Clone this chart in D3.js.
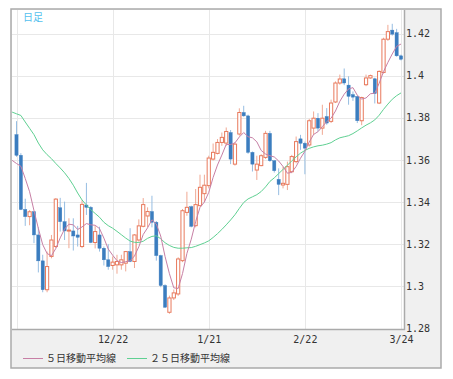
<!DOCTYPE html>
<html>
<head>
<meta charset="utf-8">
<script src="https://cdn.jsdelivr.net/npm/d3@7"></script>
<style>
  body { margin: 0; background: #fff; }
  .axis text { font-family: "DejaVu Sans Mono", monospace; font-size: 10px; fill: #333; }
  .legend text { font-family: "Noto Sans CJK JP", sans-serif; font-size: 10px; fill: #333; }
</style>
</head>
<body>
<div id="chart"></div>
<script>
// daily OHLC, oldest first
var opens = [1.3720,1.3622,1.3365,1.3331,1.3354,1.3244,1.3121,1.2984,1.3142,1.3189,
  1.3373,1.3307,1.3263,1.3263,1.3244,1.3189,1.3386,1.3375,1.3208,1.3244,
  1.3181,1.3126,1.3099,1.3102,1.3102,1.3110,1.3165,1.3118,1.3220,1.3285,
  1.3334,1.3355,1.3304,1.3146,1.3004,1.2877,1.2945,1.2964,1.3122,1.3351,
  1.3378,1.3288,1.3383,1.3440,1.3478,1.3604,1.3631,1.3683,1.3680,1.3730,
  1.3580,1.3723,1.3825,1.3809,1.3636,1.3552,1.3573,1.3612,1.3726,1.3596,
  1.3508,1.3481,1.3484,1.3544,1.3592,1.3700,1.3679,1.3671,1.3751,1.3798,
  1.3751,1.3806,1.3783,1.3875,1.3965,1.3985,1.3955,1.3910,1.3901,1.3786,
  1.3957,1.3989,1.3985,1.3870,1.4015,1.4173,1.4216,1.4204,1.4094];
var highs = [1.3784,1.3632,1.3416,1.3362,1.3358,1.3280,1.3150,1.3165,1.3244,1.3419,
  1.3420,1.3402,1.3323,1.3323,1.3287,1.3409,1.3491,1.3381,1.3287,1.3283,
  1.3189,1.3200,1.3142,1.3150,1.3150,1.3168,1.3276,1.3248,1.3318,1.3419,
  1.3375,1.3430,1.3310,1.3150,1.3010,1.2956,1.2985,1.3138,1.3367,1.3449,
  1.3383,1.3462,1.3530,1.3530,1.3620,1.3678,1.3699,1.3730,1.3754,1.3742,
  1.3683,1.3845,1.3857,1.3815,1.3640,1.3620,1.3627,1.3738,1.3738,1.3600,
  1.3560,1.3568,1.3592,1.3624,1.3711,1.3719,1.3687,1.3795,1.3830,1.3822,
  1.3862,1.3846,1.3886,1.3973,1.4005,1.4034,1.3997,1.3925,1.3905,1.3900,
  1.4005,1.4005,1.3990,1.4025,1.4180,1.4241,1.4246,1.4222,1.4100];
var lows = [1.3615,1.3362,1.3287,1.3290,1.3205,1.3066,1.2972,1.2972,1.3133,1.3181,
  1.3260,1.3220,1.3181,1.3170,1.3189,1.3181,1.3339,1.3205,1.3180,1.3165,
  1.3099,1.3079,1.3079,1.3060,1.3079,1.3071,1.3115,1.3087,1.3212,1.3280,
  1.3280,1.3280,1.3122,1.2996,1.2898,1.2870,1.2935,1.2955,1.3115,1.3335,
  1.3280,1.3280,1.3380,1.3400,1.3465,1.3597,1.3626,1.3667,1.3667,1.3580,
  1.3573,1.3715,1.3805,1.3629,1.3545,1.3505,1.3570,1.3605,1.3591,1.3540,
  1.3433,1.3465,1.3457,1.3537,1.3584,1.3648,1.3532,1.3663,1.3719,1.3735,
  1.3719,1.3767,1.3775,1.3870,1.3957,1.3955,1.3862,1.3880,1.3775,1.3765,
  1.3950,1.3985,1.3868,1.3865,1.4010,1.4165,1.4190,1.4090,1.4072];
var closes = [1.3622,1.3365,1.3331,1.3354,1.3244,1.3121,1.2984,1.3094,1.3220,1.3414,
  1.3307,1.3263,1.3267,1.3239,1.3233,1.3389,1.3375,1.3208,1.3260,1.3181,
  1.3126,1.3094,1.3115,1.3118,1.3126,1.3165,1.3118,1.3244,1.3287,1.3388,
  1.3355,1.3304,1.3146,1.3004,1.2901,1.2945,1.2969,1.3130,1.3359,1.3375,
  1.3285,1.3388,1.3470,1.3480,1.3609,1.3636,1.3683,1.3707,1.3735,1.3604,
  1.3675,1.3825,1.3809,1.3636,1.3580,1.3580,1.3620,1.3726,1.3596,1.3549,
  1.3484,1.3489,1.3568,1.3616,1.3687,1.3679,1.3656,1.3786,1.3798,1.3751,
  1.3798,1.3775,1.3870,1.3965,1.3984,1.3965,1.3902,1.3898,1.3786,1.3896,
  1.3989,1.4000,1.3915,1.4020,1.4173,1.4209,1.4197,1.4094,1.4078];

// moving averages, first value is the day before the first candle
var ma5 = [1.3598,1.3583,1.3570,1.3512,1.3449,1.3360,1.3275,1.3198,1.3156,1.3145,1.3180,
  1.3230,1.3272,1.3295,1.3292,1.3270,1.3282,1.3298,1.3292,1.3290,1.3274,
  1.3229,1.3177,1.3148,1.3122,1.3113,1.3117,1.3121,1.3144,1.3188,1.3246,
  1.3278,1.3316,1.3296,1.3239,1.3142,1.3060,1.2993,1.2990,1.3061,1.3156,
  1.3224,1.3307,1.3375,1.3400,1.3446,1.3517,1.3576,1.3623,1.3674,1.3673,
  1.3681,1.3709,1.3730,1.3710,1.3705,1.3686,1.3645,1.3628,1.3620,1.3614,
  1.3595,1.3569,1.3537,1.3541,1.3569,1.3608,1.3641,1.3685,1.3721,1.3734,
  1.3758,1.3782,1.3798,1.3832,1.3878,1.3912,1.3937,1.3943,1.3907,1.3889,
  1.3894,1.3914,1.3917,1.3964,1.4019,1.4063,1.4103,1.4139,1.4150];
var ma25 = [1.3827,1.3819,1.3811,1.3780,1.3750,1.3720,1.3680,1.3648,1.3625,1.3606,1.3583,
  1.3562,1.3539,1.3512,1.3480,1.3443,1.3410,1.3386,1.3364,1.3346,1.3328,
  1.3304,1.3288,1.3276,1.3261,1.3245,1.3229,1.3215,1.3209,1.3208,1.3214,
  1.3228,1.3237,1.3240,1.3226,1.3207,1.3194,1.3185,1.3181,1.3181,1.3183,
  1.3184,1.3190,1.3198,1.3206,1.3216,1.3232,1.3250,1.3270,1.3292,1.3315,
  1.3340,1.3370,1.3398,1.3415,1.3425,1.3435,1.3450,1.3472,1.3498,1.3515,
  1.3535,1.3555,1.3575,1.3595,1.3615,1.3632,1.3645,1.3655,1.3662,1.3667,
  1.3670,1.3675,1.3682,1.3695,1.3705,1.3710,1.3715,1.3725,1.3738,1.3752,
  1.3765,1.3776,1.3790,1.3812,1.3840,1.3865,1.3888,1.3905,1.3918];

var tickIdx = [0, 22, 44, 66, 88];
var tickLabels = ["", "12/22", "1/21", "2/22", "3/24"];
var yTicks = [1.28, 1.30, 1.32, 1.34, 1.36, 1.38, 1.40, 1.42];
var legendNames = ["５日移動平均線", "２５日移動平均線"];

var upColor = "#e8795c", upWick = "#f0a893";
var downColor = "#3b7dbf", downWick = "#96bde2";
var ma5Color = "#c77fa5", ma25Color = "#5fd092";

var svg = d3.select("#chart")
    .append("svg")
    .attr("width", 453)
    .attr("height", 379);

var plot = { left: 12, top: 10, right: 404, bottom: 329 };

var x = d3.scaleLinear().domain([0, 88]).range([16.5, 401]);
var y = d3.scaleLinear().domain([1.28, 1.42]).range([328.5, 33.5]);

// frame and panel backgrounds
svg.append("rect")
    .attr("x", 11).attr("y", 9)
    .attr("width", 430).attr("height", 359)
    .attr("fill", "#f0f0f0")
    .attr("stroke", "#aaa")
    .attr("stroke-width", 1.5);

svg.append("rect")
    .attr("x", plot.left).attr("y", plot.top)
    .attr("width", plot.right - plot.left).attr("height", plot.bottom - plot.top)
    .attr("fill", "#fff");

svg.append("clipPath").attr("id", "clip")
    .append("rect")
    .attr("x", plot.left).attr("y", plot.top)
    .attr("width", plot.right - plot.left).attr("height", plot.bottom - plot.top);

var grid = svg.append("g");
grid.selectAll(".hg").data(yTicks).enter().append("line")
    .attr("x1", plot.left).attr("x2", plot.right)
    .attr("y1", function (d) { return Math.round(y(d)) + 0.5; })
    .attr("y2", function (d) { return Math.round(y(d)) + 0.5; })
    .attr("stroke", "#e8e8e8");
grid.selectAll(".vg").data(tickIdx).enter().append("line")
    .attr("x1", function (d) { return Math.round(x(d)) + 0.5; })
    .attr("x2", function (d) { return Math.round(x(d)) + 0.5; })
    .attr("y1", plot.top).attr("y2", plot.bottom)
    .attr("stroke", "#e8e8e8");

var g = svg.append("g").attr("clip-path", "url(#clip)");

var days = d3.range(closes.length);

// candles
var candle = g.selectAll(".candle")
    .data(days)
    .enter().append("g")
    .attr("class", "candle");

candle.append("line")
    .attr("x1", function (i) { return x(i); })
    .attr("x2", function (i) { return x(i); })
    .attr("y1", function (i) { return y(highs[i]); })
    .attr("y2", function (i) { return y(lows[i]); })
    .attr("stroke", function (i) { return closes[i] >= opens[i] ? upWick : downWick; })
    .attr("stroke-width", 1);

candle.append("rect")
    .attr("x", function (i) { return x(i) - 1.6; })
    .attr("width", 3.2)
    .attr("y", function (i) { return y(Math.max(opens[i], closes[i])); })
    .attr("height", function (i) { return Math.max(1, Math.abs(y(opens[i]) - y(closes[i]))); })
    .attr("fill", function (i) { return closes[i] >= opens[i] ? "#fff" : downColor; })
    .attr("stroke", function (i) { return closes[i] >= opens[i] ? upColor : downColor; })
    .attr("stroke-width", function (i) { return closes[i] >= opens[i] ? 1 : 0.4; });

// moving averages
var line = d3.line()
    .x(function (d, k) { return x(k - 1); })
    .y(function (d) { return y(d); });

g.append("path")
    .attr("d", line(ma25))
    .attr("fill", "none")
    .attr("stroke", ma25Color)
    .attr("stroke-width", 1);

g.append("path")
    .attr("d", line(ma5))
    .attr("fill", "none")
    .attr("stroke", ma5Color)
    .attr("stroke-width", 1);

// panel borders
svg.append("line")
    .attr("x1", plot.left).attr("x2", plot.right + 1)
    .attr("y1", plot.bottom + 0.5).attr("y2", plot.bottom + 0.5)
    .attr("stroke", "#aaa").attr("stroke-width", 1.5);
svg.append("line")
    .attr("x1", plot.right + 0.5).attr("x2", plot.right + 0.5)
    .attr("y1", plot.top).attr("y2", plot.bottom + 1)
    .attr("stroke", "#aaa").attr("stroke-width", 1.5);

// axes
var yAxis = d3.axisRight(y)
    .tickValues(yTicks)
    .tickSize(0)
    .tickPadding(2)
    .tickFormat(d3.format(".2~f"));

svg.append("g")
    .attr("class", "axis")
    .attr("transform", "translate(" + plot.right + ",0)")
    .call(yAxis)
    .call(function (a) { a.select(".domain").remove(); });

var xAxis = d3.axisBottom(x)
    .tickValues(tickIdx)
    .tickSize(0)
    .tickPadding(7)
    .tickFormat(function (d, k) { return tickLabels[k]; });

svg.append("g")
    .attr("class", "axis")
    .attr("transform", "translate(0," + plot.bottom + ")")
    .call(xAxis)
    .call(function (a) { a.select(".domain").remove(); });

// title tag
svg.append("text")
    .attr("x", 23)
    .attr("y", 21)
    .style("font-family", "'Noto Sans CJK JP', sans-serif")
    .style("font-size", "10px")
    .attr("fill", "#55bfee")
    .text("日足");

// legend
var legend = svg.append("g").attr("class", "legend");
var legendX = [23, 127];
var legendColors = [ma5Color, ma25Color];
legendNames.forEach(function (name, k) {
    legend.append("line")
        .attr("x1", legendX[k]).attr("x2", legendX[k] + 20)
        .attr("y1", 358.5).attr("y2", 358.5)
        .attr("stroke", legendColors[k]);
    legend.append("text")
        .attr("x", legendX[k] + 23)
        .attr("y", 362)
        .text(name);
});
</script>
</body>
</html>
